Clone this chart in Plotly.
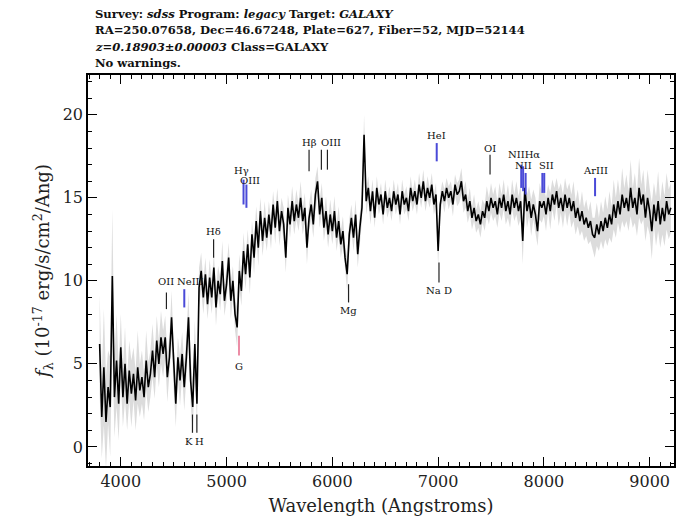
import numpy as np
import plotly.graph_objects as go

# Spectrum sampled on a 20 Angstrom grid, 3800-9200 A
wave = np.arange(3800, 9201, 20)

flux = [
    6.2, 1.8, 4.8, 1.5, 3.6, 2.4, 10.3, 3.0, 5.2, 2.6,
    6.0, 3.0, 5.0, 2.6, 4.6, 3.2, 4.4, 2.8, 4.8, 3.4,
    4.2, 3.0, 5.2, 3.6, 4.4, 5.8, 4.2, 6.4, 5.0, 6.6,
    5.6, 6.6, 4.2, 5.4, 7.8, 4.8, 2.6, 5.4, 4.0, 5.6,
    3.6, 5.4, 7.8, 4.0, 2.4, 6.2, 2.6, 9.6, 10.6, 9.0,
    10.4, 8.6, 10.2, 9.0, 10.8, 8.4, 10.0, 9.2, 11.2, 8.8,
    9.8, 11.4, 8.8, 10.0, 8.0, 7.2, 10.6, 9.4, 11.8, 10.4,
    12.2, 10.2, 12.8, 11.4, 13.6, 12.0, 14.2, 12.4, 13.8, 12.6,
    14.0, 12.8, 14.6, 13.2, 14.8, 13.0, 14.2, 13.4, 11.4, 14.4,
    13.4, 14.8, 13.6, 14.6, 13.8, 15.0, 13.6, 14.4, 12.0, 13.8,
    14.6, 13.4, 15.2, 16.0, 14.0, 15.0, 13.2, 14.2, 12.8, 14.0,
    13.0, 14.2, 12.6, 13.6, 12.2, 13.0, 11.4, 10.4, 12.8, 13.8,
    12.6, 14.0, 11.6, 13.2, 14.4, 18.8, 14.8, 15.6, 14.2, 15.4,
    13.8, 15.6, 14.6, 15.2, 14.0, 15.4, 14.4, 15.0, 14.2, 15.4,
    14.6, 15.2, 14.0, 15.4, 14.6, 15.0, 14.2, 15.6, 14.8, 15.4,
    14.6, 15.8, 15.0, 16.0, 14.8, 15.6, 15.0, 15.8, 14.6, 15.2,
    11.8, 14.6, 15.4, 14.8, 15.6, 15.0, 15.4, 14.6, 15.8, 15.2,
    15.4, 16.0, 14.8, 15.2, 14.2, 14.8, 13.8, 14.4, 13.6, 14.0,
    13.4, 14.2, 13.8, 14.8, 14.2, 15.0, 14.4, 14.8, 14.0, 15.0,
    14.4, 15.2, 14.2, 14.8, 14.0, 15.2, 14.4, 15.0, 14.2, 14.8,
    12.4, 15.6, 14.2, 14.8, 13.8, 14.6, 14.0, 13.0, 14.8, 14.4,
    14.8, 14.0, 15.0, 14.2, 15.2, 14.6, 15.4, 14.4, 15.0, 14.2,
    15.2, 14.4, 15.0, 14.2, 14.8, 13.8, 14.4, 13.6, 14.2, 13.4,
    13.8, 13.2, 13.6, 12.8, 12.6, 13.4, 12.8, 13.6, 13.0, 13.8,
    13.2, 14.0, 13.4, 14.6, 13.8, 14.8, 14.0, 15.2, 14.4, 15.0,
    14.2, 15.6, 14.4, 15.0, 14.0, 15.6, 14.6, 15.2, 13.8, 15.0,
    14.2, 13.0, 14.6, 13.6, 14.8, 13.4, 14.4, 13.6, 14.8, 14.0,
    14.4,
]

flux_err = [
    3.0, 2.5, 3.5, 2.8, 2.2, 3.0, 4.0, 2.4, 2.8, 2.2,
    2.0, 1.8, 2.2, 1.6, 1.8, 2.0, 1.6, 1.8, 2.2, 1.6,
    1.6, 1.4, 1.8, 1.5, 1.4, 1.6, 1.3, 1.5, 1.4, 1.6,
    1.4, 1.3, 1.5, 1.2, 1.6, 1.3, 1.4, 1.2, 1.5, 1.3,
    1.4, 1.2, 1.5, 1.3, 1.6, 1.4, 1.5, 1.2, 1.1, 1.0,
    1.0, 0.9, 1.1, 1.0, 0.9, 1.1, 0.9, 1.0, 1.2, 0.9,
    1.0, 0.9, 1.1, 0.9, 1.0, 1.2, 1.0, 0.9, 1.1, 0.9,
    0.9, 1.0, 0.8, 1.0, 0.9, 1.1, 0.8, 0.9, 1.0, 0.8,
    0.8, 0.9, 0.8, 1.0, 0.8, 0.9, 0.8, 1.0, 0.9, 0.8,
    0.8, 0.9, 0.8, 0.9, 0.8, 1.0, 0.8, 0.9, 1.0, 0.8,
    0.9, 0.8, 1.0, 0.9, 0.8, 0.9, 0.8, 0.9, 0.8, 0.9,
    0.8, 0.9, 0.8, 0.9, 0.8, 0.9, 0.8, 1.0, 0.9, 0.8,
    0.8, 0.9, 0.8, 0.9, 0.8, 1.2, 0.8, 0.7, 0.8, 0.7,
    0.6, 0.7, 0.6, 0.7, 0.6, 0.7, 0.6, 0.7, 0.6, 0.7,
    0.6, 0.7, 0.6, 0.7, 0.6, 0.7, 0.6, 0.7, 0.6, 0.7,
    0.6, 0.7, 0.6, 0.7, 0.6, 0.7, 0.6, 0.7, 0.6, 0.7,
    0.9, 0.7, 0.6, 0.7, 0.6, 0.7, 0.6, 0.7, 0.6, 0.7,
    0.7, 0.8, 0.7, 0.8, 0.7, 0.8, 0.7, 0.8, 0.7, 0.8,
    0.8, 0.7, 0.8, 0.9, 0.8, 0.9, 0.8, 0.9, 0.8, 0.9,
    0.8, 0.9, 0.8, 1.0, 0.8, 0.9, 0.8, 1.0, 0.9, 1.0,
    1.4, 1.0, 1.0, 0.9, 1.1, 0.9, 1.0, 0.9, 1.1, 0.9,
    0.9, 1.0, 0.8, 1.1, 0.9, 1.0, 0.8, 1.1, 0.9, 1.0,
    1.0, 1.1, 0.9, 1.0, 1.2, 1.0, 1.1, 0.9, 1.2, 1.0,
    1.1, 1.0, 1.2, 1.0, 1.2, 1.3, 1.0, 1.2, 1.1, 1.3,
    1.1, 1.4, 1.1, 1.5, 1.2, 1.3, 1.1, 1.6, 1.2, 1.4,
    1.2, 1.7, 1.2, 1.5, 1.3, 1.8, 1.2, 1.5, 1.4, 1.7,
    1.4, 1.7, 1.3, 1.5, 1.8, 1.4, 1.6, 1.5, 1.7, 1.5,
    1.5,
]

redshift = 0.18903

# Emission-line markers: name, rest wavelength, colour
em_names = ["OII", "NeIII", "H&#948;", "H&#947;", "OIII", "H&#946;", "OIII", "OIII",
            "HeI", "OI", "NII", "H&#945;", "NII", "SII", "SII", "ArIII"]
em_rest = [3727, 3869, 4102, 4340, 4363, 4861, 4959, 5007,
           5876, 6300, 6548, 6563, 6583, 6716, 6731, 7135]
em_color = ["black", "blue", "black", "blue", "blue", "black", "black", "black",
            "blue", "black", "blue", "blue", "blue", "blue", "blue", "blue"]

# Absorption-line markers
ab_names = ["K", "H", "G", "Mg", "Na D"]
ab_rest = [3934, 3969, 4304, 5175, 5894]
ab_color = ["black", "black", "red", "black", "black"]

BLUE = "#4a4ad8"
RED = "#e0406a"
col_map = {"black": "#222222", "blue": BLUE, "red": RED}

# marker geometry (flux units): tick bottom, tick top, label position, label mode
# label mode: 1 = own label, 0 = no label, 2 = joined with the following line's label
em_geom = [
    (8.3, 9.3, 9.95, 1), (8.4, 9.5, 9.95, 1), (11.4, 12.5, 12.95, 1),
    (14.6, 16.1, 16.65, 1), (14.4, 15.8, 16.05, 1), (16.6, 17.9, 18.35, 1),
    (16.7, 17.9, 18.35, 0), (16.7, 17.9, 18.35, 1), (17.2, 18.3, 18.75, 1),
    (16.4, 17.6, 17.95, 1), (15.6, 17.0, 17.6, 2), (15.4, 16.9, 17.6, 0),
    (15.2, 16.5, 16.95, 1), (15.3, 16.5, 16.95, 1), (15.3, 16.5, 16.95, 0),
    (15.1, 16.2, 16.65, 1),
]
em_label_dx = [0, 6, 0, -2, 4, 0, 0, 4, 0, 0, 2, 0, -2, 4, 0, 0]
ab_geom = [(0.85, 1.95, 0.35), (0.85, 1.95, 0.35), (5.5, 6.7, 4.85), (8.7, 9.8, 8.2), (9.9, 11.1, 9.4)]
ab_label_dx = [-3, 3, 0, 0, 0]

wave_arr = np.asarray(wave, dtype=float)
f = np.asarray(flux)
e = np.asarray(flux_err)

fig = go.Figure()
fig.add_trace(go.Scatter(x=wave_arr, y=f - e, mode="lines", line=dict(width=0, color="#d6d6d6"),
                         hoverinfo="skip", showlegend=False))
fig.add_trace(go.Scatter(x=wave_arr, y=f + e, mode="lines", line=dict(width=0, color="#d6d6d6"),
                         fill="tonexty", fillcolor="rgba(205,205,205,0.7)",
                         hoverinfo="skip", showlegend=False))
fig.add_trace(go.Scatter(x=wave_arr, y=f, mode="lines", line=dict(width=1.6, color="black"),
                         showlegend=False))

label_font = dict(family="DejaVu Serif", size=10, color="#111111")
for i, (name, rest, col, geom, dx) in enumerate(zip(em_names, em_rest, em_color, em_geom, em_label_dx)):
    lam = rest * (1 + redshift)
    y0, y1, ylab, mode = geom
    fig.add_shape(type="line", x0=lam, x1=lam, y0=y0, y1=y1, xref="x", yref="y",
                  line=dict(color=col_map[col], width=2 if col == "blue" else 1.2))
    if mode == 1:
        fig.add_annotation(x=lam, y=ylab, text=name, showarrow=False, xshift=dx,
                           font=label_font, xanchor="center", yanchor="middle")
    elif mode == 2:
        joined = name + em_names[i + 1]
        lam_mid = 0.5 * (rest + em_rest[i + 1]) * (1 + redshift)
        fig.add_annotation(x=lam_mid, y=ylab, text=joined, showarrow=False, xshift=dx,
                           font=label_font, xanchor="center", yanchor="middle")

for name, rest, col, geom, dx in zip(ab_names, ab_rest, ab_color, ab_geom, ab_label_dx):
    lam = rest * (1 + redshift)
    y0, y1, ylab = geom
    fig.add_shape(type="line", x0=lam, x1=lam, y0=y0, y1=y1, xref="x", yref="y",
                  line=dict(color=col_map[col], width=1.2))
    fig.add_annotation(x=lam, y=ylab, text=name, showarrow=False, xshift=dx,
                       font=label_font, xanchor="center", yanchor="middle")

# Header block above the plot
header = [
    "Survey: <i>sdss</i> Program: <i>legacy</i> Target: <i>GALAXY</i>",
    "RA=250.07658, Dec=46.67248, Plate=627, Fiber=52, MJD=52144",
    "<i>z=0.18903&#177;0.00003</i> Class=GALAXY",
    "No warnings.",
]
W, H = 679, 524
ml, mr, mt, mb = 88, 3, 75, 58
ph = H - mt - mb
for i, line in enumerate(header):
    ypx = 14 + i * 16.4
    fig.add_annotation(x=0, y=(H - mb - ypx) / ph, xref="paper", yref="paper",
                       text="<b>" + line + "</b>",
                       showarrow=False, xanchor="left", yanchor="middle", xshift=5,
                       font=dict(family="DejaVu Serif", size=11.6, color="#111111"))

axis_common = dict(showgrid=False, zeroline=False, showline=True, linecolor="black", linewidth=1.5,
                   mirror="ticks", ticks="inside", tickcolor="black", tickwidth=1.2,
                   tickfont=dict(family="DejaVu Serif", size=16, color="#222222"))

fig.update_layout(
    width=W, height=H,
    margin=dict(l=ml, r=mr, t=mt, b=mb),
    paper_bgcolor="white", plot_bgcolor="white",
    xaxis=dict(range=[3690, 9230], tickmode="linear", tick0=4000, dtick=1000, ticklen=9,
               minor=dict(dtick=100, ticklen=4, ticks="inside", tickcolor="black"),
               title=dict(text="Wavelength (Angstroms)", standoff=9,
                          font=dict(family="DejaVu Serif", size=18, color="#222222")),
               **axis_common),
    yaxis=dict(range=[-1.15, 22.4], tickmode="linear", tick0=0, dtick=5, ticklen=9,
               minor=dict(dtick=1, ticklen=4, ticks="inside", tickcolor="black"),
               title=dict(text="<i>f</i><sub>&#955;</sub> (10<sup>-17</sup> erg/s/cm<sup>2</sup>/Ang)",
                          standoff=8, font=dict(family="DejaVu Serif", size=18, color="#222222")),
               **axis_common),
)

fig.write_html("out.html")
